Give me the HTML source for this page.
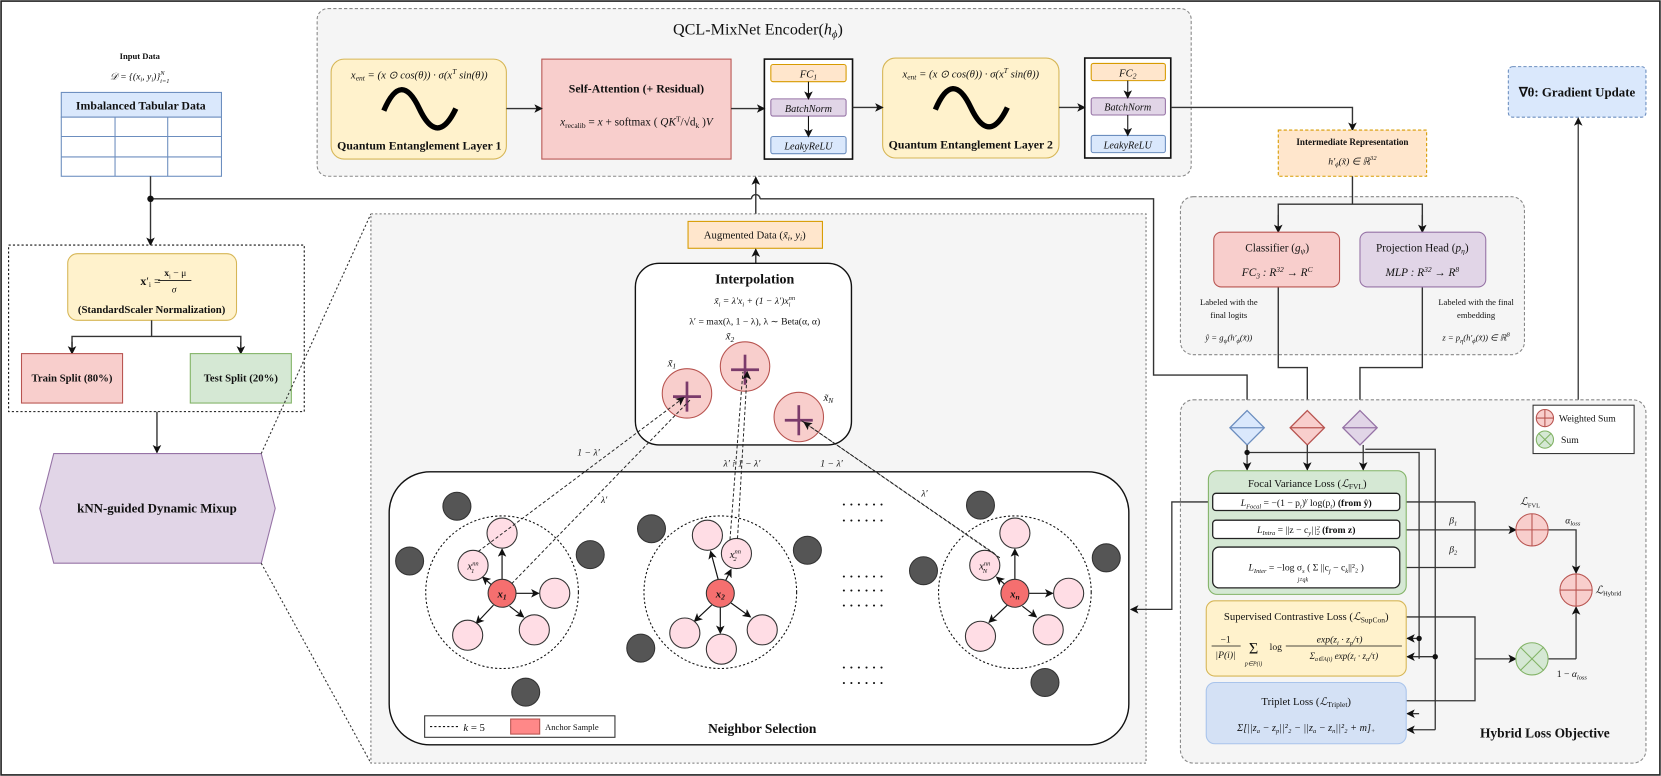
<!DOCTYPE html>
<html><head><meta charset="utf-8"><style>
html,body{margin:0;padding:0;background:#fff}
svg{display:block}
text{font-family:"Liberation Serif",serif;fill:#111}
.b{font-weight:bold}
.i{font-style:italic}
</style></head><body>
<svg width="1661" height="776" viewBox="0 0 1545 722" preserveAspectRatio="none" xmlns="http://www.w3.org/2000/svg">
<defs>
<marker id="a" markerWidth="8" markerHeight="8" refX="7" refY="4" orient="auto" markerUnits="userSpaceOnUse"><path d="M0,0 L8,4 L0,8 L2,4z" fill="#111"/></marker>
</defs>
<rect x="1" y="1" width="1543" height="720" fill="#fff" stroke="#222" stroke-width="1.5"/>

<!-- Encoder -->
<rect x="295" y="8" width="813" height="156" rx="10" fill="#f5f5f5" stroke="#888" stroke-dasharray="3,2"/>
<text x="705" y="32" font-size="15" text-anchor="middle">QCL-MixNet Encoder(<tspan class="i">h</tspan><tspan font-size="10" dy="3" class="i">ϕ</tspan><tspan dy="-3">)</tspan></text>

<rect x="308" y="55" width="163" height="93" rx="12" fill="#fff2cc" stroke="#d6b656"/>
<text x="390" y="73" font-size="10" text-anchor="middle" class="i">x<tspan font-size="7" dy="2">ent</tspan><tspan dy="-2"> = (x ⊙ cos(θ)) · σ(x</tspan><tspan font-size="7" dy="-4">T</tspan><tspan dy="4"> sin(θ))</tspan></text>
<path d="M357 103 Q373 65 390 101 T424 101" fill="none" stroke="#000" stroke-width="5"/>
<text x="390" y="139" font-size="11" class="b" text-anchor="middle">Quantum Entanglement Layer 1</text>

<rect x="504" y="55" width="176" height="93" fill="#f8cecc" stroke="#b85450"/>
<text x="592" y="86" font-size="11" class="b" text-anchor="middle">Self-Attention (+ Residual)</text>
<text x="592" y="117" font-size="10.5" text-anchor="middle"><tspan class="i">x</tspan><tspan font-size="7" dy="2">recalib</tspan><tspan dy="-2"> = </tspan><tspan class="i">x</tspan> + softmax ( <tspan class="i">QK</tspan><tspan font-size="7" dy="-4">T</tspan><tspan dy="4">/√d</tspan><tspan font-size="7" dy="2">k</tspan><tspan dy="-2"> )</tspan><tspan class="i">V</tspan></text>

<rect x="711" y="55" width="82" height="93" fill="#fff" stroke="#111" stroke-width="1.5"/>
<rect x="717" y="60" width="70" height="16" rx="2" fill="#ffe6cc" stroke="#d79b00"/>
<text x="752" y="72" font-size="10" class="i" text-anchor="middle">FC<tspan font-size="7" dy="2">1</tspan></text>
<rect x="717" y="92" width="70" height="16" rx="2" fill="#e1d5e7" stroke="#9673a6"/>
<text x="752" y="104" font-size="9.5" class="i" text-anchor="middle">BatchNorm</text>
<rect x="717" y="127" width="70" height="16" rx="2" fill="#dae8fc" stroke="#6c8ebf"/>
<text x="752" y="139" font-size="9.5" class="i" text-anchor="middle">LeakyReLU</text>
<line x1="752" y1="76" x2="752" y2="92" stroke="#111" marker-end="url(#a)"/>
<line x1="752" y1="108" x2="752" y2="127" stroke="#111" marker-end="url(#a)"/>

<rect x="821" y="54" width="164" height="93" rx="12" fill="#fff2cc" stroke="#d6b656"/>
<text x="903" y="72" font-size="10" text-anchor="middle" class="i">x<tspan font-size="7" dy="2">ent</tspan><tspan dy="-2"> = (x ⊙ cos(θ)) · σ(x</tspan><tspan font-size="7" dy="-4">T</tspan><tspan dy="4"> sin(θ))</tspan></text>
<path d="M870 102 Q886 64 903 100 T937 100" fill="none" stroke="#000" stroke-width="5"/>
<text x="903" y="138" font-size="11" class="b" text-anchor="middle">Quantum Entanglement Layer 2</text>

<rect x="1009" y="54" width="80" height="93" fill="#fff" stroke="#111" stroke-width="1.5"/>
<rect x="1015" y="59" width="69" height="16" rx="2" fill="#ffe6cc" stroke="#d79b00"/>
<text x="1049" y="71" font-size="10" class="i" text-anchor="middle">FC<tspan font-size="7" dy="2">2</tspan></text>
<rect x="1015" y="91" width="69" height="16" rx="2" fill="#e1d5e7" stroke="#9673a6"/>
<text x="1049" y="103" font-size="9.5" class="i" text-anchor="middle">BatchNorm</text>
<rect x="1015" y="126" width="69" height="16" rx="2" fill="#dae8fc" stroke="#6c8ebf"/>
<text x="1049" y="138" font-size="9.5" class="i" text-anchor="middle">LeakyReLU</text>
<line x1="1049" y1="75" x2="1049" y2="91" stroke="#111" marker-end="url(#a)"/>
<line x1="1049" y1="107" x2="1049" y2="126" stroke="#111" marker-end="url(#a)"/>

<g stroke="#333" stroke-width="1.3" fill="none">
<line x1="471" y1="101" x2="504" y2="101" marker-end="url(#a)"/>
<line x1="680" y1="101" x2="711" y2="101" marker-end="url(#a)"/>
<line x1="793" y1="100" x2="821" y2="100" marker-end="url(#a)"/>
<line x1="985" y1="100" x2="1009" y2="100" marker-end="url(#a)"/>
<polyline points="1089,100 1258,100 1258,121" marker-end="url(#a)"/>
</g>

<!-- Intermediate -->
<rect x="1189" y="121" width="138" height="43" fill="#ffe6cc" stroke="#d79b00" stroke-dasharray="3,2"/>
<text x="1258" y="135" font-size="8.5" class="b" text-anchor="middle">Intermediate Representation</text>
<text x="1258" y="153" font-size="9" class="i" text-anchor="middle">h′<tspan font-size="6" dy="2">ϕ</tspan><tspan dy="-2">(x̃) ∈ ℝ</tspan><tspan font-size="6" dy="-4">32</tspan></text>

<!-- Gradient -->
<rect x="1403" y="62" width="128" height="47" rx="4" fill="#dae8fc" stroke="#6c8ebf" stroke-dasharray="3,2"/>
<text x="1467" y="90" font-size="12" class="b" text-anchor="middle">∇θ: Gradient Update</text>
<line x1="1468" y1="372" x2="1468" y2="110" stroke="#333" stroke-width="1.2" marker-end="url(#a)"/>

<!-- Input -->
<text x="130" y="55" font-size="8" class="b" text-anchor="middle">Input Data</text>
<text x="130" y="74" font-size="9" class="i" text-anchor="middle">𝒟 = {(x<tspan font-size="6" dy="2">i</tspan><tspan dy="-2">, y</tspan><tspan font-size="6" dy="2">i</tspan><tspan dy="-2">)}</tspan><tspan font-size="6" dy="-4">N</tspan><tspan font-size="6" dx="-4" dy="7">i=1</tspan></text>
<rect x="57" y="86" width="149" height="23" fill="#dae8fc" stroke="#6c8ebf"/>
<text x="131" y="102" font-size="11" class="b" text-anchor="middle">Imbalanced Tabular Data</text>
<g stroke="#6c8ebf" fill="#fff">
<rect x="57" y="109" width="149" height="55"/>
<line x1="57" y1="127" x2="206" y2="127"/><line x1="57" y1="146" x2="206" y2="146"/>
<line x1="107" y1="109" x2="107" y2="164"/><line x1="156" y1="109" x2="156" y2="164"/>
</g>

<g stroke="#333" stroke-width="1.3" fill="none">
<line x1="140" y1="164" x2="140" y2="228" marker-end="url(#a)"/>
<polyline points="140,185 699,185"/>
<path d="M699 185 A4 4 0 0 1 707 185"/>
<polyline points="707,185 1073,185 1073,349 1160,349 1160,382" marker-end="url(#a)"/>
<line x1="703" y1="206" x2="703" y2="165" marker-end="url(#a)"/>
</g>
<circle cx="140" cy="185" r="3" fill="#111"/>

<!-- Normalization dashed box -->
<rect x="8" y="228" width="275" height="155" fill="#fff" stroke="#111" stroke-dasharray="2,2"/>
<rect x="63" y="236" width="157" height="62" rx="9" fill="#fff2cc" stroke="#d6b656"/>
<text x="140" y="265" font-size="11" text-anchor="middle"><tspan class="b">x</tspan>′<tspan font-size="7" dy="2">i</tspan><tspan dy="-2"> = </tspan></text>
<text x="163" y="257" font-size="9" text-anchor="middle"><tspan class="b">x</tspan><tspan font-size="6" dy="2">i</tspan><tspan dy="-2"> − μ</tspan></text>
<line x1="147" y1="261" x2="178" y2="261" stroke="#111" stroke-width="0.8"/>
<text x="162" y="272" font-size="9" class="i" text-anchor="middle">σ</text>
<text x="141" y="291" font-size="10" class="b" text-anchor="middle">(StandardScaler Normalization)</text>
<g stroke="#333" stroke-width="1.3" fill="none">
<polyline points="141,298 141,313"/>
<polyline points="67,329 67,313 224,313 224,329" />
<line x1="67" y1="318" x2="67" y2="329" marker-end="url(#a)"/>
<line x1="224" y1="318" x2="224" y2="329" marker-end="url(#a)"/>
<line x1="146" y1="383" x2="146" y2="421" marker-end="url(#a)"/>
</g>
<rect x="20" y="329" width="94" height="46" fill="#f8cecc" stroke="#b85450"/>
<text x="67" y="355" font-size="10" class="b" text-anchor="middle">Train Split (80%)</text>
<rect x="177" y="329" width="94" height="46" fill="#d5e8d4" stroke="#82b366"/>
<text x="224" y="355" font-size="10" class="b" text-anchor="middle">Test Split (20%)</text>

<!-- kNN hexagon -->
<polygon points="50,422 243,422 256,473 243,524 50,524 37,473" fill="#e1d5e7" stroke="#9673a6"/>
<text x="146" y="477" font-size="12" class="b" text-anchor="middle">kNN-guided Dynamic Mixup</text>
<line x1="243" y1="422" x2="345" y2="199" stroke="#333" stroke-dasharray="2,2"/>
<line x1="243" y1="524" x2="345" y2="710" stroke="#333" stroke-dasharray="2,2"/>

<!-- Mixup container -->
<rect x="345" y="199" width="721" height="511" fill="#f5f5f5" stroke="#777" stroke-dasharray="2,2"/>
<rect x="640" y="206" width="125" height="25" fill="#ffe6cc" stroke="#d79b00"/>
<text x="702" y="222" font-size="10" text-anchor="middle">Augmented Data (<tspan class="i">x̃</tspan><tspan font-size="7" dy="2" class="i">i</tspan><tspan dy="-2">, </tspan><tspan class="i">y</tspan><tspan font-size="7" dy="2" class="i">i</tspan><tspan dy="-2">)</tspan></text>
<line x1="703" y1="246" x2="703" y2="232" stroke="#333" stroke-width="1.3" marker-end="url(#a)"/>

<!-- Interpolation -->
<rect x="591" y="245" width="201" height="169" rx="22" fill="#fff" stroke="#111" stroke-width="1.3"/>
<text x="702" y="264" font-size="13" class="b" text-anchor="middle">Interpolation</text>
<text x="702" y="283" font-size="9" class="i" text-anchor="middle">x̃<tspan font-size="6" dy="2">i</tspan><tspan dy="-2"> = λ′x</tspan><tspan font-size="6" dy="2">i</tspan><tspan dy="-2"> + (1 − λ′)x</tspan><tspan font-size="6" dy="-4">nn</tspan><tspan font-size="6" dx="-6" dy="6">i</tspan></text>
<text x="702" y="302" font-size="9" text-anchor="middle">λ′ = max(λ, 1 − λ),  λ ∼ Beta(α, α)</text>
<g fill="#f8cecc" stroke="#b85450">
<circle cx="639" cy="366" r="23"/><circle cx="693" cy="341" r="23"/><circle cx="743" cy="388" r="23"/>
</g>
<g stroke="#7b3b6b" stroke-width="2.5">
<line x1="626" y1="369" x2="652" y2="369"/><line x1="639" y1="355" x2="639" y2="383"/>
<line x1="680" y1="344" x2="706" y2="344"/><line x1="693" y1="330" x2="693" y2="358"/>
<line x1="730" y1="391" x2="756" y2="391"/><line x1="743" y1="377" x2="743" y2="405"/>
</g>
<text x="621" y="341" font-size="10" class="i">x̃<tspan font-size="7" dy="2">1</tspan></text>
<text x="675" y="316" font-size="10" class="i">x̃<tspan font-size="7" dy="2">2</tspan></text>
<text x="766" y="373" font-size="10" class="i">x̃<tspan font-size="7" dy="2">N</tspan></text>

<!-- Neighbor selection -->
<rect x="362" y="439" width="688" height="254" rx="38" fill="#fff" stroke="#111" stroke-width="1.3"/>
<g fill="none" stroke="#111" stroke-dasharray="2,2">
<circle cx="467" cy="551" r="71"/><circle cx="670" cy="551" r="71"/><circle cx="944" cy="551" r="71"/>
</g>
<g fill="#555" stroke="#333">
<circle cx="425" cy="471" r="13"/><circle cx="381" cy="522" r="13"/><circle cx="549" cy="516" r="13"/><circle cx="489" cy="644" r="13"/>
<circle cx="606" cy="492" r="13"/><circle cx="751" cy="512" r="13"/><circle cx="596" cy="603" r="13"/>
<circle cx="859" cy="531" r="13"/><circle cx="912" cy="470" r="13"/><circle cx="1029" cy="519" r="13"/><circle cx="972" cy="635" r="13"/>
</g>
<g stroke="#111" stroke-width="1.1" marker-end="url(#a)">
<line x1="467" y1="539" x2="467" y2="511"/><line x1="457" y1="544" x2="449" y2="537"/><line x1="479" y1="552" x2="501" y2="552"/>
<line x1="459" y1="563" x2="443" y2="580"/><line x1="474" y1="564" x2="487" y2="574"/>
<line x1="668" y1="539" x2="661" y2="513"/><line x1="675" y1="540" x2="680" y2="530"/><line x1="670" y1="564" x2="670" y2="589"/>
<line x1="662" y1="563" x2="646" y2="578"/><line x1="680" y1="561" x2="698" y2="574"/>
<line x1="944" y1="539" x2="944" y2="511"/><line x1="935" y1="544" x2="927" y2="537"/><line x1="956" y1="552" x2="979" y2="552"/>
<line x1="937" y1="563" x2="920" y2="579"/><line x1="951" y1="564" x2="964" y2="574"/>
</g>
<g fill="#ffdde5" stroke="#333">
<circle cx="467" cy="496" r="14"/><circle cx="440" cy="526" r="14"/><circle cx="516" cy="552" r="14"/><circle cx="435" cy="591" r="14"/><circle cx="497" cy="586" r="14"/>
<circle cx="658" cy="498" r="14"/><circle cx="685" cy="515" r="14"/><circle cx="709" cy="586" r="14"/><circle cx="637" cy="589" r="14"/><circle cx="671" cy="604" r="14"/>
<circle cx="944" cy="496" r="14"/><circle cx="916" cy="526" r="14"/><circle cx="994" cy="552" r="14"/><circle cx="912" cy="592" r="14"/><circle cx="975" cy="586" r="14"/>
</g>
<g fill="#f56f6f" stroke="#333">
<circle cx="467" cy="552" r="13"/><circle cx="670" cy="552" r="13"/><circle cx="944" cy="552" r="13"/>
</g>
<g font-size="10" class="i" text-anchor="middle">
<text x="467" y="556" class="b">x<tspan font-size="7" dy="2">1</tspan></text>
<text x="670" y="556" class="b">x<tspan font-size="7" dy="2">2</tspan></text>
<text x="944" y="556" class="b">x<tspan font-size="7" dy="2">n</tspan></text>
<text x="440" y="530">x<tspan font-size="6" dy="-4">nn</tspan><tspan font-size="6" dx="-7" dy="7">1</tspan></text>
<text x="684" y="519">x<tspan font-size="6" dy="-4">nn</tspan><tspan font-size="6" dx="-7" dy="7">2</tspan></text>
<text x="916" y="530">x<tspan font-size="6" dy="-4">nn</tspan><tspan font-size="6" dx="-7" dy="7">N</tspan></text>
</g>
<g stroke="#222" stroke-dasharray="3,2" fill="none" stroke-width="0.9">
<line x1="445" y1="513" x2="636" y2="370" marker-end="url(#a)"/>
<line x1="476" y1="543" x2="642" y2="372"/>
<line x1="679" y1="502" x2="691" y2="346"/>
<line x1="686" y1="501" x2="695" y2="346" marker-end="url(#a)"/>
<line x1="925" y1="515" x2="745" y2="391"/>
<line x1="930" y1="519" x2="748" y2="393" marker-end="url(#a)"/>
</g>
<g font-size="9" class="i">
<text x="537" y="424">1 − λ′</text><text x="559" y="468">λ′</text>
<text x="673" y="434">λ′ ⁞ 1 − λ′</text><text x="763" y="434">1 − λ′</text><text x="857" y="462">λ′</text>
</g>
<g font-size="12" font-weight="bold" fill="#111">
<text x="783" y="473">· · · · · ·</text><text x="783" y="488">· · · · · ·</text>
<text x="783" y="540">· · · · · ·</text><text x="783" y="553">· · · · · ·</text><text x="783" y="567">· · · · · ·</text>
<text x="783" y="625">· · · · · ·</text><text x="783" y="639">· · · · · ·</text>
</g>
<rect x="395" y="666" width="177" height="20" fill="#fff" stroke="#333"/>
<line x1="400" y1="676" x2="426" y2="676" stroke="#111" stroke-dasharray="2,2"/>
<text x="431" y="680" font-size="10" class="i">k <tspan font-style="normal">= 5</tspan></text>
<rect x="475" y="669" width="27" height="14" fill="#f88" stroke="#b85450"/>
<text x="507" y="679" font-size="8">Anchor Sample</text>
<text x="709" y="682" font-size="12.5" class="b" text-anchor="middle">Neighbor Selection</text>

<!-- Classifier container -->
<rect x="1098" y="183" width="320" height="147" rx="12" fill="#f5f5f5" stroke="#888" stroke-dasharray="3,2"/>
<g stroke="#333" stroke-width="1.3" fill="none">
<line x1="1258" y1="164" x2="1258" y2="190"/>
<polyline points="1189,216 1189,190 1323,190 1323,216"/>
<line x1="1189" y1="200" x2="1189" y2="216" marker-end="url(#a)"/>
<line x1="1323" y1="200" x2="1323" y2="216" marker-end="url(#a)"/>
<polyline points="1189,267 1189,342 1216,342 1216,382" marker-end="url(#a)"/>
<polyline points="1323,267 1323,342 1265,342 1265,382" marker-end="url(#a)"/>
</g>
<rect x="1129" y="216" width="117" height="51" rx="7" fill="#f8cecc" stroke="#b85450"/>
<text x="1188" y="234" font-size="10.5" text-anchor="middle">Classifier (<tspan class="i">g</tspan><tspan font-size="7" dy="2" class="i">ψ</tspan><tspan dy="-2">)</tspan></text>
<text x="1188" y="257" font-size="10.5" class="i" text-anchor="middle">FC<tspan font-size="7" dy="2">3</tspan><tspan dy="-2"> : R</tspan><tspan font-size="7" dy="-4">32</tspan><tspan dy="4"> → R</tspan><tspan font-size="7" dy="-4">C</tspan></text>
<rect x="1265" y="216" width="117" height="51" rx="7" fill="#e1d5e7" stroke="#9673a6"/>
<text x="1323" y="234" font-size="10.5" text-anchor="middle">Projection Head (<tspan class="i">p</tspan><tspan font-size="7" dy="2" class="i">η</tspan><tspan dy="-2">)</tspan></text>
<text x="1323" y="257" font-size="10.5" class="i" text-anchor="middle">MLP : R<tspan font-size="7" dy="-4">32</tspan><tspan dy="4"> → R</tspan><tspan font-size="7" dy="-4">8</tspan></text>
<g font-size="8" text-anchor="middle" fill="#333">
<text x="1143" y="284">Labeled with the</text><text x="1143" y="296">final logits</text>
<text x="1143" y="317" class="i">ŷ = g<tspan font-size="6" dy="2">ψ</tspan><tspan dy="-2">(h′</tspan><tspan font-size="6" dy="2">ϕ</tspan><tspan dy="-2">(x̃))</tspan></text>
<text x="1373" y="284">Labeled with the final</text><text x="1373" y="296">embedding</text>
<text x="1373" y="317" class="i">z = p<tspan font-size="6" dy="2">η</tspan><tspan dy="-2">(h′</tspan><tspan font-size="6" dy="2">ϕ</tspan><tspan dy="-2">(x̃)) ∈ ℝ</tspan><tspan font-size="6" dy="-4">8</tspan></text>
</g>

<!-- Hybrid loss container -->
<rect x="1098" y="372" width="433" height="338" rx="12" fill="#f5f5f5" stroke="#888" stroke-dasharray="3,2"/>
<g stroke-width="1.2">
<polygon points="1160,382 1176,398 1160,414 1144,398" fill="#dae8fc" stroke="#6c8ebf"/>
<polygon points="1216,382 1232,398 1216,414 1200,398" fill="#f8cecc" stroke="#b85450"/>
<polygon points="1265,382 1281,398 1265,414 1249,398" fill="#e1d5e7" stroke="#9673a6"/>
<line x1="1144" y1="398" x2="1176" y2="398" stroke="#6c8ebf"/>
<line x1="1200" y1="398" x2="1232" y2="398" stroke="#b85450"/>
<line x1="1249" y1="398" x2="1281" y2="398" stroke="#9673a6"/>
</g>
<rect x="1426" y="377" width="94" height="45" fill="#fff" stroke="#333"/>
<circle cx="1437" cy="389" r="8" fill="#f8cecc" stroke="#b85450"/>
<line x1="1429" y1="389" x2="1445" y2="389" stroke="#b85450"/><line x1="1437" y1="381" x2="1437" y2="397" stroke="#b85450"/>
<circle cx="1437" cy="409" r="8" fill="#d5e8d4" stroke="#82b366"/>
<line x1="1431" y1="403" x2="1443" y2="415" stroke="#82b366"/><line x1="1443" y1="403" x2="1431" y2="415" stroke="#82b366"/>
<text x="1450" y="392" font-size="9" fill="#333">Weighted Sum</text>
<text x="1452" y="412" font-size="9" fill="#333">Sum</text>

<g stroke="#333" stroke-width="1.2" fill="none">
<line x1="1160" y1="414" x2="1160" y2="437" marker-end="url(#a)"/>
<line x1="1216" y1="414" x2="1216" y2="437" marker-end="url(#a)"/>
<line x1="1268" y1="414" x2="1268" y2="437" marker-end="url(#a)"/>
<polyline points="1160,421 1320,421 1320,613"/>
<polyline points="1270,418 1335,418 1335,679"/>
<polyline points="1320,594 1309,594" marker-end="url(#a)"/>
<polyline points="1335,611 1309,611" marker-end="url(#a)"/>
<polyline points="1320,664 1309,664" marker-end="url(#a)"/>
<polyline points="1335,679 1309,679" marker-end="url(#a)"/>
<polyline points="1302,467 1372,467"/>
<polyline points="1302,493 1410,493" marker-end="url(#a)"/>
<polyline points="1302,528 1372,528 1372,467"/>
<polyline points="1308,574 1372,574 1372,652 1308,652"/>
<line x1="1372" y1="613" x2="1410" y2="613" marker-end="url(#a)"/>
<polyline points="1440,493 1466,493 1466,533" marker-end="url(#a)"/>
<line x1="1466" y1="613" x2="1466" y2="565" marker-end="url(#a)"/>
<line x1="1440" y1="613" x2="1466" y2="613"/>
<polyline points="1128,467 1090,467 1090,567 1052,567" marker-end="url(#a)"/>
</g>
<circle cx="1160" cy="421" r="2.5" fill="#111"/>
<circle cx="1320" cy="594" r="2.5" fill="#111"/>
<circle cx="1335" cy="611" r="2.5" fill="#111"/>

<rect x="1124" y="438" width="184" height="115" rx="8" fill="#d5e8d4" stroke="#82b366"/>
<text x="1216" y="453" font-size="10" text-anchor="middle">Focal Variance Loss (<tspan class="i">ℒ</tspan><tspan font-size="7" dy="2">FVL</tspan><tspan dy="-2">)</tspan></text>
<rect x="1128" y="459" width="174" height="16" rx="3" fill="#fff" stroke="#222" stroke-width="1.2"/>
<text x="1215" y="471" font-size="9" text-anchor="middle" class="i">L<tspan font-size="6" dy="2">Focal</tspan><tspan dy="-2" font-style="normal"> = −(1 − p</tspan><tspan font-size="6" dy="2">t</tspan><tspan dy="-2" font-style="normal">)</tspan><tspan font-size="6" dy="-4">γ</tspan><tspan dy="4" font-style="normal"> log(p</tspan><tspan font-size="6" dy="2">t</tspan><tspan dy="-2" font-style="normal">) </tspan><tspan font-style="normal" font-weight="bold">(from ŷ)</tspan></text>
<rect x="1128" y="484" width="174" height="17" rx="3" fill="#fff" stroke="#222" stroke-width="1.2"/>
<text x="1215" y="496" font-size="9" text-anchor="middle" class="i">L<tspan font-size="6" dy="2">Intra</tspan><tspan dy="-2" font-style="normal"> = ||z − c</tspan><tspan font-size="6" dy="2">y</tspan><tspan dy="-2">||</tspan><tspan font-size="6" dy="-3">2</tspan><tspan font-size="6" dx="-3" dy="5">2</tspan><tspan dy="-2" font-style="normal" font-weight="bold"> (from z)</tspan></text>
<rect x="1128" y="509" width="174" height="38" rx="6" fill="#fff" stroke="#222" stroke-width="1.2"/>
<text x="1215" y="531" font-size="9" text-anchor="middle" class="i">L<tspan font-size="6" dy="2">Inter</tspan><tspan dy="-2" font-style="normal"> = −log σ</tspan><tspan font-size="6" dy="2">s</tspan><tspan dy="-2" font-style="normal"> ( Σ ||c</tspan><tspan font-size="6" dy="2">j</tspan><tspan dy="-2" font-style="normal"> − c</tspan><tspan font-size="6" dy="2">k</tspan><tspan dy="-2" font-style="normal">||²₂ )</tspan></text>
<text x="1207" y="541" font-size="5.5" class="i">j≠qk</text>

<rect x="1122" y="559" width="186" height="70" rx="8" fill="#fff2cc" stroke="#d6b656"/>
<text x="1215" y="577" font-size="10" text-anchor="middle">Supervised Contrastive Loss (<tspan class="i">ℒ</tspan><tspan font-size="7" dy="2">SupCon</tspan><tspan dy="-2">)</tspan></text>
<text x="1140" y="598" font-size="9" text-anchor="middle">−1</text>
<line x1="1127" y1="601" x2="1154" y2="601" stroke="#111" stroke-width="0.7"/>
<text x="1140" y="612" font-size="9" class="i" text-anchor="middle">|P(i)|</text>
<text x="1166" y="608" font-size="15" text-anchor="middle">Σ</text>
<text x="1166" y="619" font-size="5.5" class="i" text-anchor="middle">p∈P(i)</text>
<text x="1181" y="605" font-size="9">log</text>
<text x="1246" y="598" font-size="9" class="i" text-anchor="middle">exp(z<tspan font-size="6" dy="2">i</tspan><tspan dy="-2"> · z</tspan><tspan font-size="6" dy="2">p</tspan><tspan dy="-2">/τ)</tspan></text>
<line x1="1196" y1="601" x2="1304" y2="601" stroke="#111" stroke-width="0.7"/>
<text x="1250" y="613" font-size="8.5" class="i" text-anchor="middle">Σ<tspan font-size="5.5" dy="2">a∈A(i)</tspan><tspan dy="-2"> exp(z</tspan><tspan font-size="6" dy="2">i</tspan><tspan dy="-2"> · z</tspan><tspan font-size="6" dy="2">a</tspan><tspan dy="-2">/τ)</tspan></text>

<rect x="1122" y="635" width="186" height="57" rx="8" fill="#d4e1f5" stroke="#a9c4eb"/>
<text x="1215" y="656" font-size="10" text-anchor="middle">Triplet Loss (<tspan class="i">ℒ</tspan><tspan font-size="7" dy="2">Triplet</tspan><tspan dy="-2">)</tspan></text>
<text x="1215" y="680" font-size="9.5" class="i" text-anchor="middle">Σ[||z<tspan font-size="6" dy="2">a</tspan><tspan dy="-2"> − z</tspan><tspan font-size="6" dy="2">p</tspan><tspan dy="-2">||²₂ − ||z</tspan><tspan font-size="6" dy="2">a</tspan><tspan dy="-2"> − z</tspan><tspan font-size="6" dy="2">n</tspan><tspan dy="-2">||²₂ + m]</tspan><tspan font-size="6" dy="2">+</tspan></text>

<circle cx="1425" cy="493" r="15" fill="#f8cecc" stroke="#b85450"/>
<line x1="1410" y1="493" x2="1440" y2="493" stroke="#b85450"/><line x1="1425" y1="478" x2="1425" y2="508" stroke="#b85450"/>
<circle cx="1466" cy="549" r="15" fill="#f8cecc" stroke="#b85450"/>
<line x1="1451" y1="549" x2="1481" y2="549" stroke="#b85450"/><line x1="1466" y1="534" x2="1466" y2="564" stroke="#b85450"/>
<circle cx="1425" cy="613" r="15" fill="#d5e8d4" stroke="#82b366"/>
<line x1="1414" y1="602" x2="1436" y2="624" stroke="#82b366"/><line x1="1436" y1="602" x2="1414" y2="624" stroke="#82b366"/>
<text x="1414" y="470" font-size="10" class="i">ℒ<tspan font-size="6" dy="2" font-style="normal">FVL</tspan></text>
<text x="1456" y="487" font-size="9" class="i">α<tspan font-size="6" dy="2">loss</tspan></text>
<text x="1484" y="552" font-size="10" class="i">ℒ<tspan font-size="6" dy="2" font-style="normal">Hybrid</tspan></text>
<text x="1448" y="630" font-size="9">1 − <tspan class="i">α</tspan><tspan font-size="6" dy="2" class="i">loss</tspan></text>
<text x="1348" y="487" font-size="9" class="i">β<tspan font-size="6" dy="2">1</tspan></text>
<text x="1348" y="514" font-size="9" class="i">β<tspan font-size="6" dy="2">2</tspan></text>
<text x="1437" y="686" font-size="12.5" class="b" text-anchor="middle">Hybrid Loss Objective</text>
</svg>
</body></html>
